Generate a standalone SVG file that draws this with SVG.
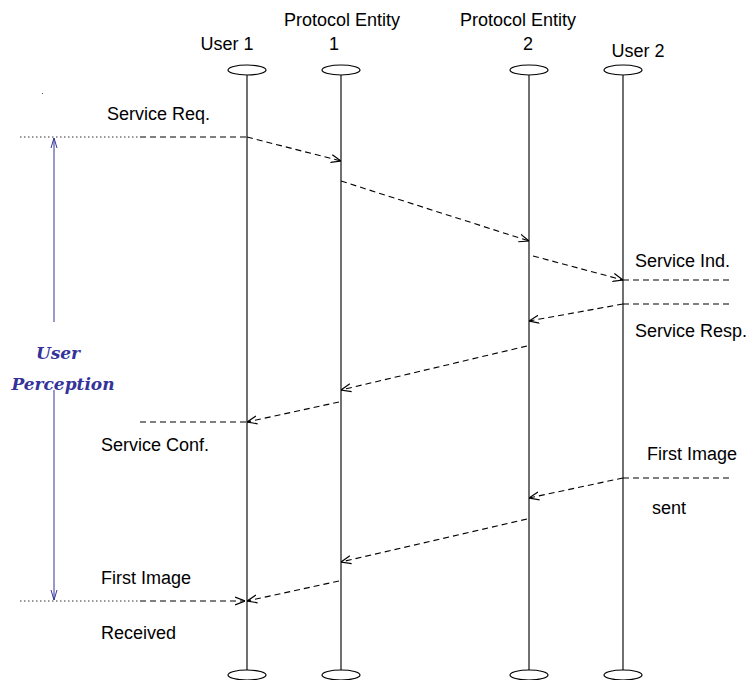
<svg xmlns="http://www.w3.org/2000/svg" width="750" height="680" viewBox="0 0 750 680">
<defs>
<marker id="ah" viewBox="0 0 10 10" refX="10" refY="5" markerWidth="10" markerHeight="10" markerUnits="userSpaceOnUse" orient="auto">
<path d="M0,1 L10,5 L0,9" fill="none" stroke="#000" stroke-width="1.2"/>
</marker>
<marker id="bh" viewBox="0 0 10 10" refX="10" refY="5" markerWidth="10" markerHeight="10" markerUnits="userSpaceOnUse" orient="auto">
<path d="M0,2 L10,5 L0,8" fill="none" stroke="#333399" stroke-width="1"/>
</marker>
</defs>
<style>
text{font-family:"Liberation Sans",Arial,sans-serif;font-size:18px;fill:#000}
.t{text-anchor:middle}
.life{stroke:#111;stroke-width:1.2;fill:none}
.cap{fill:#fff;stroke:#000;stroke-width:1.2}
.msg{stroke:#000;stroke-width:1.1;stroke-dasharray:6 4;fill:none}
.msga{stroke:#000;stroke-width:1.1;stroke-dasharray:6 4;fill:none;marker-end:url(#ah)}
.dot{stroke:#333;stroke-width:1;stroke-dasharray:1.5 2.5;fill:none}
.up{stroke:#333399;stroke-width:1;fill:none;marker-end:url(#bh)}
.blue{font-family:"DejaVu Serif","Liberation Serif",serif;font-weight:bold;font-style:italic;fill:#333399;font-size:17px}
</style>
<rect width="750" height="680" fill="#fff"/>
<g id="user1">
<line class="life" x1="247" y1="75" x2="247" y2="670"/>
<ellipse class="cap" cx="247" cy="70" rx="19" ry="5"/>
<ellipse class="cap" cx="247" cy="675" rx="19" ry="5"/>
<text class="t" x="227" y="50">User 1</text>
</g>
<g id="pe1">
<line class="life" x1="341" y1="75" x2="341" y2="670"/>
<ellipse class="cap" cx="341" cy="70" rx="19" ry="5"/>
<ellipse class="cap" cx="341" cy="675" rx="19" ry="5"/>
<text class="t" x="342" y="26">Protocol Entity</text>
<text class="t" x="334" y="50">1</text>
</g>
<g id="pe2">
<line class="life" x1="529" y1="75" x2="529" y2="670"/>
<ellipse class="cap" cx="529" cy="70" rx="19" ry="5"/>
<ellipse class="cap" cx="529" cy="675" rx="19" ry="5"/>
<text class="t" x="518" y="26">Protocol Entity</text>
<text class="t" x="528" y="50">2</text>
</g>
<g id="user2">
<line class="life" x1="623" y1="75" x2="623" y2="670"/>
<ellipse class="cap" cx="623" cy="70" rx="19" ry="5"/>
<ellipse class="cap" cx="623" cy="675" rx="19" ry="5"/>
<text class="t" x="638" y="57">User 2</text>
</g>
<g id="connectors">
<line class="dot" x1="20" y1="137" x2="140" y2="137"/>
<line class="msg" x1="140" y1="137" x2="247" y2="137"/>
<line class="msga" x1="247" y1="137" x2="341" y2="161"/>
<line class="msga" x1="341" y1="181" x2="529" y2="241"/>
<line class="msga" x1="533" y1="256" x2="623" y2="280"/>
<line class="msg" x1="623" y1="280" x2="730" y2="280"/>
<line class="msg" x1="623" y1="304" x2="730" y2="304"/>
<line class="msga" x1="623" y1="304" x2="529" y2="321"/>
<line class="msga" x1="527" y1="346" x2="341" y2="390"/>
<line class="msga" x1="339" y1="402" x2="247" y2="422"/>
<line class="msg" x1="140" y1="422" x2="247" y2="422"/>
<line class="msg" x1="623" y1="478" x2="730" y2="478"/>
<line class="msga" x1="623" y1="478" x2="529" y2="498"/>
<line class="msga" x1="527" y1="519" x2="341" y2="562"/>
<line class="msga" x1="339" y1="581" x2="247" y2="601"/>
<line class="dot" x1="20" y1="601" x2="140" y2="601"/>
<line class="msga" x1="140" y1="601" x2="245" y2="601"/>
<line class="up" x1="54" y1="322" x2="54" y2="138"/>
<line class="up" x1="54" y1="390" x2="54" y2="600"/>
</g>
<g id="labels">
<rect x="42" y="93" width="1" height="1" fill="#555"/>
<text x="107" y="120">Service Req.</text>
<text x="635" y="267">Service Ind.</text>
<text x="635" y="337">Service Resp.</text>
<text x="101" y="451">Service Conf.</text>
<text x="647" y="460">First Image</text>
<text x="652" y="514">sent</text>
<text x="101" y="584">First Image</text>
<text x="101" y="639">Received</text>
<text class="blue t" x="58" y="359">User</text>
<text class="blue t" x="63" y="390">Perception</text>
</g>
</svg>
